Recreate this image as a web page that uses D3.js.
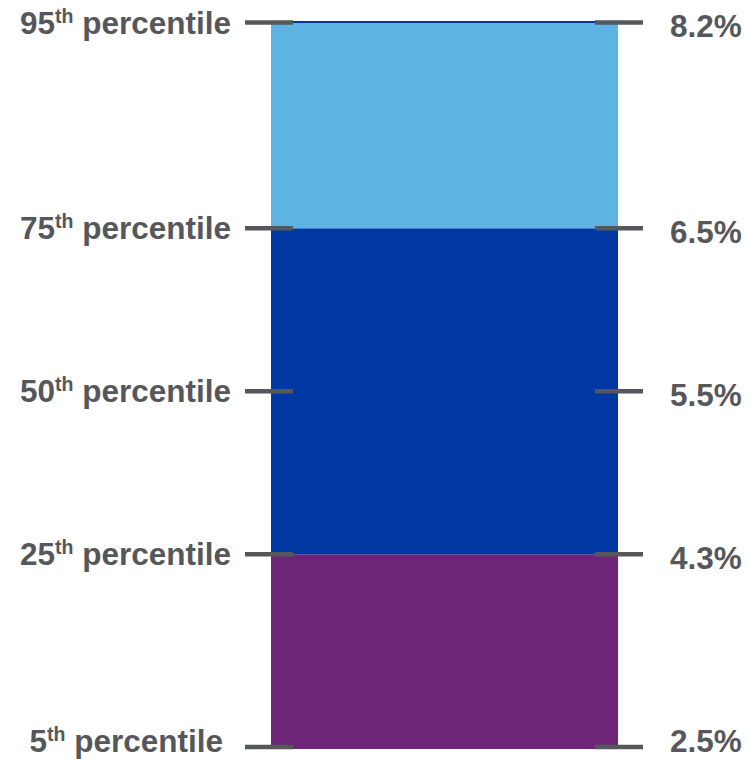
<!DOCTYPE html>
<html>
<head>
<meta charset="utf-8">
<script src="https://cdn.jsdelivr.net/npm/d3@7"></script>
<style>
  html, body { margin: 0; padding: 0; background: #fff; }
  svg { display: block; font-family: "Liberation Sans", Arial, sans-serif; }
</style>
</head>
<body>
<div id="chart"></div>
<script>
// percentile ranks and their values
const percentiles = [5, 25, 50, 75, 95];
const values = [2.5, 4.3, 5.5, 6.5, 8.2];
const valueLabels = ['2.5%', '4.3%', '5.5%', '6.5%', '8.2%'];

// coloured bands between percentiles
const bandFrom = [2.5, 4.3, 6.5];
const bandTo = [4.3, 6.5, 8.2];
const bandColors = ['#6c2577', '#0038a3', '#5db4e3'];

// where each percentile sits along the bar (share of its height, bottom = 0)
const stopShares = [0, 0.266, 0.491, 0.716, 1];

const width = 747, height = 759;
const plotTop = 22.5, plotBottom = 747;
const barLeft = 271, barRight = 618;
const gray = '#56575a';

const svg = d3.select('#chart').append('svg')
  .attr('width', width)
  .attr('height', height);

const y = d3.scaleLinear()
  .domain(values)
  .range(stopShares.map(s => plotBottom - s * (plotBottom - plotTop)));

// bands
svg.selectAll('rect.band')
  .data(bandFrom.map((d, i) => ({ from: d, to: bandTo[i], color: bandColors[i] })))
  .enter()
  .append('rect')
  .attr('class', 'band')
  .attr('x', barLeft)
  .attr('width', barRight - barLeft)
  .attr('y', d => y(d.to))
  .attr('height', d => y(d.from) - y(d.to) + (d.from === values[0] ? 2 : 0))
  .attr('fill', d => d.color);

// thin dark edge on the top of the bar
svg.append('line')
  .attr('x1', barLeft).attr('x2', barRight)
  .attr('y1', y(values[values.length - 1]) - 0.5)
  .attr('y2', y(values[values.length - 1]) - 0.5)
  .attr('stroke', '#0038a3')
  .attr('stroke-width', 2);

// tick marks both sides
const rows = values.map((v, i) => ({ v, p: percentiles[i], label: valueLabels[i] }));

const tickSides = [[245, 293], [595, 643]];
tickSides.forEach(([x1, x2]) => {
  svg.selectAll(null)
    .data(rows)
    .enter()
    .append('line')
    .attr('x1', x1).attr('x2', x2)
    .attr('y1', d => y(d.v)).attr('y2', d => y(d.v))
    .attr('stroke', gray)
    .attr('stroke-width', 4.5);
});

// keep the lowest labels inside the picture
const baseline = (v, off) => Math.min(y(v) + off, height - 7);

// left labels: "95th percentile"
const left = svg.selectAll('text.pct')
  .data(rows)
  .enter()
  .append('text')
  .attr('class', 'pct')
  .attr('x', d => d.p === 5 ? 223 : 231)
  .attr('y', d => baseline(d.v, 11))
  .attr('text-anchor', 'end')
  .attr('font-size', 31.5)
  .attr('font-weight', 'bold')
  .attr('fill', gray);

left.append('tspan').text(d => d.p);
left.append('tspan')
  .attr('font-size', 19.5)
  .attr('dy', -11)
  .text('th');
left.append('tspan')
  .attr('dy', 11)
  .text(' percentile');

// right labels: values
svg.selectAll('text.val')
  .data(rows)
  .enter()
  .append('text')
  .attr('class', 'val')
  .attr('x', 670)
  .attr('y', d => baseline(d.v, 14.5))
  .attr('font-size', 31.5)
  .attr('font-weight', 'bold')
  .attr('fill', gray)
  .text(d => d.label);
</script>
</body>
</html>
